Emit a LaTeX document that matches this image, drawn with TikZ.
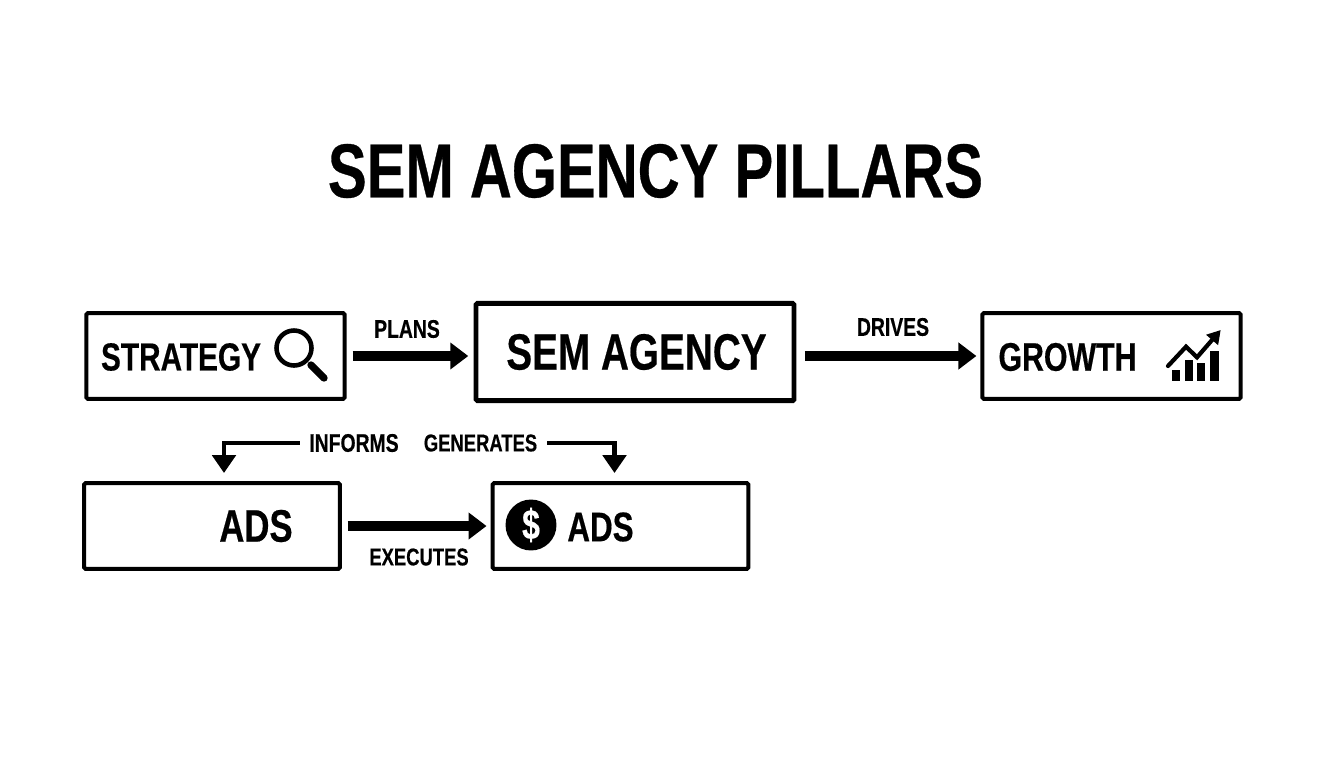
\documentclass[tikz,border=0pt]{standalone}
\usepackage{fontspec}
\setmainfont{Liberation Sans}[FakeStretch=0.76,BoldFeatures={FakeBold=0.4}]
\usetikzlibrary{arrows.meta}

\tikzset{
	caja/.style={draw,line width=2.3pt,rounded corners=0.8pt,outer sep=0pt,minimum width=#1},
	texto/.style={inner sep=0pt,font=\bfseries\fontsize{#1}{#1}\selectfont},
	flecha/.style={line width=5.6pt,-{Triangle[length=10.2pt,width=14.7pt]}},
	flechita/.style={line width=2.8pt,-{Triangle[length=10.2pt,width=13.2pt]}},
}

\begin{document}
\begin{tikzpicture}[x=0.02cm,y=-0.02cm]
		\useasboundingbox (0,0) rectangle (1344,768);

		%Titulo
		\node [texto=43.5pt] (titulo) at (655.5,171) {SEM AGENCY PILLARS};

		%Cajas
		\node [caja=147pt,minimum height=48.8pt] (cajaStrategy) at (215.5,356) {};
		\node [caja=181pt,minimum height=55.4pt,line width=2.8pt] (cajaAgency) at (635,352) {};
		\node [caja=147pt,minimum height=48.8pt] (cajaGrowth) at (1111.5,356) {};
		\node [caja=145.5pt,minimum height=48.8pt] (cajaAds) at (212,526) {};
		\node [caja=145.5pt,minimum height=48.8pt] (cajaPago) at (620.5,526) {};

		%Textos de las cajas
		\node [texto=22.3pt] (textoStrategy) at (181,357) {STRATEGY};
		\node [texto=29pt] (textoAgency) at (636.5,352) {SEM AGENCY};
		\node [texto=22.7pt] (textoGrowth) at (1067.5,357) {GROWTH};
		\node [texto=26pt] (textoAds) at (256,526) {ADS};
		\node [texto=23.5pt] (textoPago) at (600.5,527) {ADS};

		%Etiquetas
		\node [texto=14.5pt] (etiqPlans) at (407,329) {PLANS};
		\node [texto=14.5pt] (etiqDrives) at (893,327) {DRIVES};
		\node [texto=14.5pt] (etiqInforms) at (354,443) {INFORMS};
		\node [texto=13.8pt] (etiqGenerates) at (480.5,443) {GENERATES};
		\node [texto=13.8pt] (etiqExecutes) at (419,557) {EXECUTES};

		%Puntas
		\coordinate (puntaInforms) at (224,473);
		\coordinate (puntaGenerates) at (614.5,473);

		%Arcos
		\draw[flecha,shorten <=4.5pt,shorten >=4.4pt] (cajaStrategy.east) -- (cajaStrategy.east -| cajaAgency.west);
		\draw[flecha,shorten <=6.2pt,shorten >=3.4pt] (cajaStrategy.east -| cajaAgency.east) -- (cajaGrowth.west);
		\draw[flecha,shorten <=4.5pt,shorten >=3.5pt] (cajaAds.east) -- (cajaAds.east -| cajaPago.west);
		\draw[flechita,shorten <=5.4pt] (etiqInforms.west) -| (puntaInforms);
		\draw[flechita,shorten <=5.6pt] (etiqGenerates.east) -| (puntaGenerates);

		%Lupa
		\draw[line width=2.6pt] (294,348) circle (17.5);
		\draw[line width=4.2pt,line cap=round] (311,365) -- (324,378);

		%Grafica
		\fill (1172,369.5) rectangle (1180,380.7);
		\fill (1184.7,360) rectangle (1192.7,380.7);
		\fill (1197.3,363.3) rectangle (1205.3,380.7);
		\fill (1210,351.3) rectangle (1218.7,380.7);
		\draw[line width=2.4pt,line cap=round,-{Triangle[length=7.5pt,width=8.5pt]}] (1168,366) -- (1186,346.7) -- (1197,357.3) -- (1220.7,330);

		%Moneda
		\node [circle,fill=black,minimum size=29pt,inner sep=0pt] (moneda) at (531,525) {};
		\node [texto=24pt,text=white] (signo) at (moneda) {\$};
\end{tikzpicture}
\end{document}
